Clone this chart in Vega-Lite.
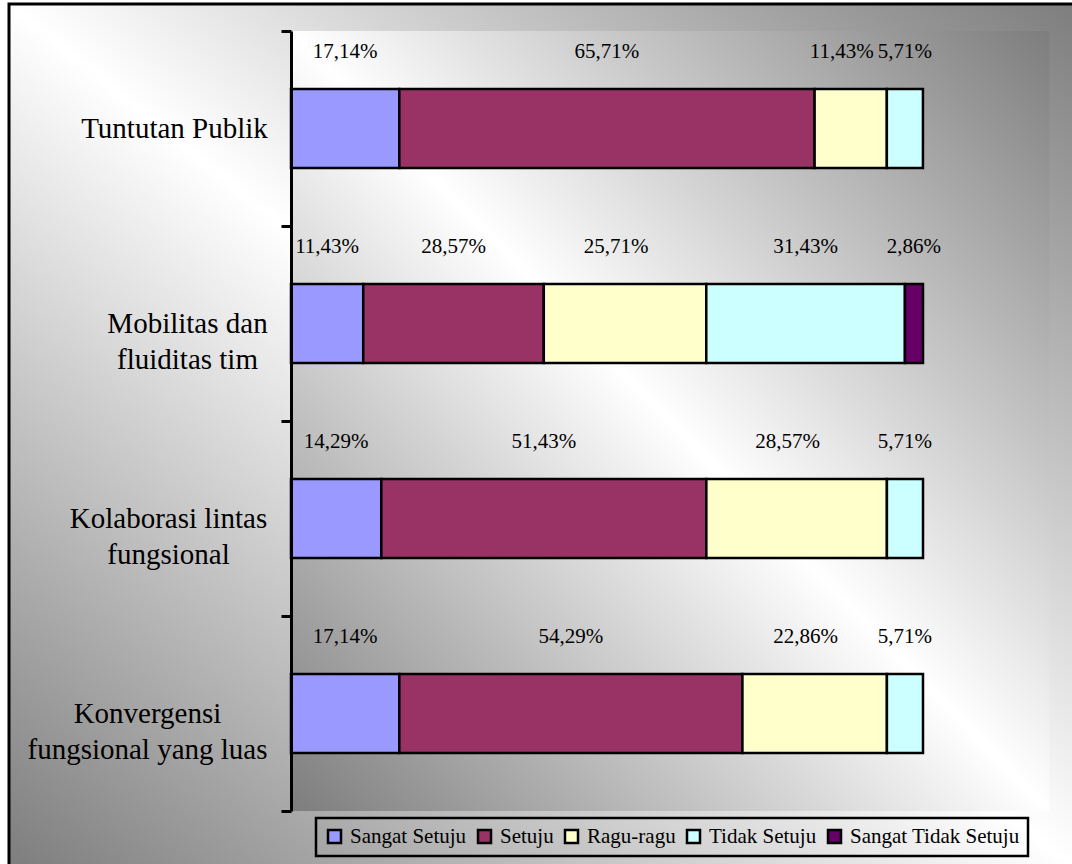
{
  "$schema": "https://vega.github.io/schema/vega-lite/v6.json",
  "width": 1070,
  "height": 867,
  "padding": {"left": 9, "top": 4, "right": -7, "bottom": -7},
  "autosize": {"type": "none"},
  "background": "white",
  "config": {
    "view": {
      "fill": {"gradient": "linear", "x1": 1, "y1": 0, "x2": 0, "y2": 1,
        "stops": [{"offset": 0, "color": "#7d7d7d"}, {"offset": 0.5, "color": "#ffffff"}, {"offset": 1, "color": "#7d7d7d"}]},
      "stroke": "black",
      "strokeWidth": 3
    },
    "locale": {"number": {"decimal": ",", "thousands": ".", "grouping": [3], "currency": ["", ""]}},
    "font": "Liberation Serif"
  },
  "resolve": {"scale": {"y": "independent"}},
  "layer": [
    {
      "data": {"values": [{}]},
      "mark": {"type": "rect", "fill": {"gradient": "linear", "x1": 1, "y1": 0, "x2": 0, "y2": 1,
        "stops": [{"offset": 0, "color": "#7d7d7d"}, {"offset": 0.5, "color": "#ffffff"}, {"offset": 1, "color": "#7d7d7d"}]}},
      "encoding": {
        "x": {"datum": 0, "type": "quantitative", "scale": {"domain": [-0.4462, 1.24684], "nice": false, "zero": false}, "axis": null},
        "x2": {"datum": 1.2},
        "y": {"datum": 0, "type": "quantitative", "scale": {"domain": [0, 1], "range": [27, 807], "nice": false, "zero": false}, "axis": null},
        "y2": {"datum": 1}
      }
    },
    {
      "data": {"values": [
        {"cat": "Tuntutan Publik", "s": "Sangat Setuju", "k": 1, "v": 0.1714},
        {"cat": "Tuntutan Publik", "s": "Setuju", "k": 2, "v": 0.6571},
        {"cat": "Tuntutan Publik", "s": "Ragu-ragu", "k": 3, "v": 0.1143},
        {"cat": "Tuntutan Publik", "s": "Tidak Setuju", "k": 4, "v": 0.0571},
        {"cat": "Mobilitas dan fluiditas tim", "s": "Sangat Setuju", "k": 1, "v": 0.1143},
        {"cat": "Mobilitas dan fluiditas tim", "s": "Setuju", "k": 2, "v": 0.2857},
        {"cat": "Mobilitas dan fluiditas tim", "s": "Ragu-ragu", "k": 3, "v": 0.2571},
        {"cat": "Mobilitas dan fluiditas tim", "s": "Tidak Setuju", "k": 4, "v": 0.3143},
        {"cat": "Mobilitas dan fluiditas tim", "s": "Sangat Tidak Setuju", "k": 5, "v": 0.0286},
        {"cat": "Kolaborasi lintas fungsional", "s": "Sangat Setuju", "k": 1, "v": 0.1429},
        {"cat": "Kolaborasi lintas fungsional", "s": "Setuju", "k": 2, "v": 0.5143},
        {"cat": "Kolaborasi lintas fungsional", "s": "Ragu-ragu", "k": 3, "v": 0.2857},
        {"cat": "Kolaborasi lintas fungsional", "s": "Tidak Setuju", "k": 4, "v": 0.0571},
        {"cat": "Konvergensi fungsional yang luas", "s": "Sangat Setuju", "k": 1, "v": 0.1714},
        {"cat": "Konvergensi fungsional yang luas", "s": "Setuju", "k": 2, "v": 0.5429},
        {"cat": "Konvergensi fungsional yang luas", "s": "Ragu-ragu", "k": 3, "v": 0.2286},
        {"cat": "Konvergensi fungsional yang luas", "s": "Tidak Setuju", "k": 4, "v": 0.0571}
      ]},
      "transform": [
        {"stack": "v", "groupby": ["cat"], "sort": [{"field": "k", "order": "ascending"}], "as": ["x0", "x1"]},
        {"calculate": "(datum.x0 + datum.x1) / 2", "as": "xm"}
      ],
      "layer": [
        {
          "mark": {"type": "bar", "height": {"band": 0.405}, "stroke": "black", "strokeWidth": 2.5},
          "encoding": {
            "x": {"field": "x0", "type": "quantitative", "axis": null},
            "x2": {"field": "x1"},
            "y": {
              "field": "cat", "type": "nominal", "sort": null,
              "scale": {"range": [27, 807], "paddingInner": 0, "paddingOuter": 0},
              "axis": {
                "title": null,
                "offset": -282,
                "zindex": 1,
                "domainColor": "black",
                "domainWidth": 3,
                "tickColor": "black",
                "tickWidth": 3,
                "tickSize": 10,
                "tickBand": "extent",
                "grid": false,
                "labelFont": "Liberation Serif",
                "labelFontSize": 29,
                "labelColor": "black",
                "labelLineHeight": 36,
                "labelAlign": "center",
                "labelBaseline": "middle",
                "labelLimit": 400,
                "labelPadding": {
                  "condition": [
                    {"test": "datum.value == 'Tuntutan Publik'", "value": 107},
                    {"test": "datum.value == 'Mobilitas dan fluiditas tim'", "value": 94},
                    {"test": "datum.value == 'Kolaborasi lintas fungsional'", "value": 113}
                  ],
                  "value": 134
                },
                "labelExpr": "datum.value == 'Mobilitas dan fluiditas tim' ? ['Mobilitas dan', 'fluiditas tim'] : datum.value == 'Kolaborasi lintas fungsional' ? ['Kolaborasi lintas', 'fungsional'] : datum.value == 'Konvergensi fungsional yang luas' ? ['Konvergensi', 'fungsional yang luas'] : datum.value"
              }
            },
            "color": {
              "field": "s", "type": "nominal",
              "scale": {
                "domain": ["Sangat Setuju", "Setuju", "Ragu-ragu", "Tidak Setuju", "Sangat Tidak Setuju"],
                "range": ["#9999FF", "#993366", "#FFFFCC", "#CCFFFF", "#660066"]
              },
              "legend": {
                "orient": "none",
                "legendX": 307,
                "legendY": 814,
                "direction": "horizontal",
                "columns": 5,
                "title": null,
                "symbolType": "square",
                "symbolSize": 169,
                "symbolStrokeColor": "black",
                "symbolStrokeWidth": 2.5,
                "labelFont": "Liberation Serif",
                "labelFontSize": 21,
                "labelColor": "black",
                "labelOffset": 5,
                "labelLimit": 300,
                "columnPadding": 6,
                "padding": 8,
                "strokeColor": "black",
                "encode": {"legend": {"update": {"strokeWidth": {"value": 2.5}}}}
              }
            }
          }
        },
        {
          "transform": [{"filter": "datum.k != 3"}],
          "mark": {"type": "text", "font": "Liberation Serif", "fontSize": 21, "color": "black", "align": "center", "baseline": "middle", "dy": -77},
          "encoding": {
            "x": {"field": "xm", "type": "quantitative", "axis": null},
            "y": {"field": "cat", "type": "nominal", "sort": null},
            "text": {"field": "v", "type": "quantitative", "format": ".2%"}
          }
        },
        {
          "transform": [{"filter": "datum.k == 3"}],
          "mark": {"type": "text", "font": "Liberation Serif", "fontSize": 21, "color": "black", "align": "center", "baseline": "middle", "dy": -77, "dx": -9},
          "encoding": {
            "x": {"field": "xm", "type": "quantitative", "axis": null},
            "y": {"field": "cat", "type": "nominal", "sort": null},
            "text": {"field": "v", "type": "quantitative", "format": ".2%"}
          }
        }
      ]
    }
  ]
}
